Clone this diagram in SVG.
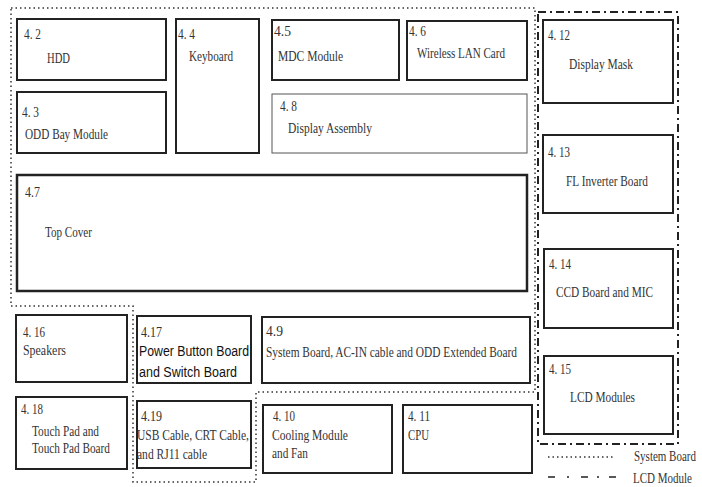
<svg xmlns="http://www.w3.org/2000/svg" width="702" height="487" viewBox="0 0 702 487">
<style>
.b{fill:#fff;stroke:#222;stroke-width:2}
.thin{fill:#fff;stroke:#555;stroke-width:1}
text{font-family:"Liberation Serif",serif;font-size:15px;fill:#333;}
.s{font-family:"Liberation Sans",Arial,sans-serif;font-size:14px;fill:#111}
.dot{fill:none;stroke:#333;stroke-width:1.5;stroke-dasharray:1.5 3}
.dd{fill:none;stroke:#222;stroke-width:2;stroke-dasharray:8 4 2 4}
</style>
<rect width="702" height="487" fill="#fff"/>
<g id="connectors">
<path class="dot" d="M11,8 H535 V392 H256 V482 H133 V306 H11 Z"/>
<rect class="dd" x="538" y="12" width="140" height="432"/>
</g>
<g id="n4_2"><rect class="b" x="17" y="19" width="149" height="61"/><text x="24" y="39" textLength="17" lengthAdjust="spacingAndGlyphs">4. 2</text><text x="47" y="63" textLength="23" lengthAdjust="spacingAndGlyphs">HDD</text></g>
<g id="n4_3"><rect class="b" x="17" y="92" width="149" height="61"/><text x="22" y="117" textLength="17" lengthAdjust="spacingAndGlyphs">4. 3</text><text x="25" y="139" textLength="83" lengthAdjust="spacingAndGlyphs">ODD Bay Module</text></g>
<g id="n4_4"><rect class="b" x="176" y="19" width="83" height="134"/><text x="178" y="39" textLength="17" lengthAdjust="spacingAndGlyphs">4. 4</text><text x="189" y="61" textLength="44" lengthAdjust="spacingAndGlyphs">Keyboard</text></g>
<g id="n4_5"><rect class="b" x="272" y="20" width="127" height="60"/><text x="274" y="36" textLength="17" lengthAdjust="spacingAndGlyphs">4.5</text><text x="278" y="61" textLength="65" lengthAdjust="spacingAndGlyphs">MDC Module</text></g>
<g id="n4_6"><rect class="b" x="407" y="21" width="120" height="59"/><text x="409" y="36" textLength="17" lengthAdjust="spacingAndGlyphs">4. 6</text><text x="417" y="58" textLength="88" lengthAdjust="spacingAndGlyphs">Wireless LAN Card</text></g>
<g id="n4_8"><rect class="thin" x="272" y="94" width="255" height="59"/><text x="280" y="111" textLength="17" lengthAdjust="spacingAndGlyphs">4. 8</text><text x="288" y="133" textLength="84" lengthAdjust="spacingAndGlyphs">Display Assembly</text></g>
<g id="n4_7"><rect class="b" x="17" y="175" width="510" height="116" style="stroke-width:2.5"/><text x="25" y="197" textLength="15" lengthAdjust="spacingAndGlyphs">4.7</text><text x="45" y="237" textLength="47" lengthAdjust="spacingAndGlyphs">Top Cover</text></g>
<g id="n4_12"><rect class="b" x="543" y="20" width="130" height="83"/><text x="548" y="40" textLength="22" lengthAdjust="spacingAndGlyphs">4. 12</text><text x="569" y="69" textLength="64" lengthAdjust="spacingAndGlyphs">Display Mask</text></g>
<g id="n4_13"><rect class="b" x="543" y="135" width="130" height="78"/><text x="548" y="157" textLength="22" lengthAdjust="spacingAndGlyphs">4. 13</text><text x="566" y="186" textLength="82" lengthAdjust="spacingAndGlyphs">FL Inverter Board</text></g>
<g id="n4_14"><rect class="b" x="544" y="249" width="129" height="79"/><text x="549" y="269" textLength="22" lengthAdjust="spacingAndGlyphs">4. 14</text><text x="556" y="297" textLength="97" lengthAdjust="spacingAndGlyphs">CCD Board and MIC</text></g>
<g id="n4_15"><rect class="b" x="544" y="356" width="129" height="78"/><text x="549" y="374" textLength="22" lengthAdjust="spacingAndGlyphs">4. 15</text><text x="570" y="402" textLength="65" lengthAdjust="spacingAndGlyphs">LCD Modules</text></g>
<g id="n4_16"><rect class="b" x="16" y="315" width="111" height="67"/><text x="23" y="337" textLength="22" lengthAdjust="spacingAndGlyphs">4. 16</text><text x="23" y="355" textLength="43" lengthAdjust="spacingAndGlyphs">Speakers</text></g>
<g id="n4_17"><rect class="b" x="137" y="316" width="114" height="67"/><text x="141" y="337" textLength="21" lengthAdjust="spacingAndGlyphs">4.17</text><text class="s" x="139" y="356" textLength="110" lengthAdjust="spacingAndGlyphs">Power Button Board</text><text class="s" x="139" y="377" textLength="98" lengthAdjust="spacingAndGlyphs">and Switch Board</text></g>
<g id="n4_9"><rect class="b" x="262" y="317" width="268" height="66"/><text x="266" y="336" textLength="17" lengthAdjust="spacingAndGlyphs">4.9</text><text x="266" y="357" textLength="251" lengthAdjust="spacingAndGlyphs">System Board, AC-IN cable and ODD Extended Board</text></g>
<g id="n4_18"><rect class="b" x="16" y="397" width="111" height="72"/><text x="21" y="414" textLength="22" lengthAdjust="spacingAndGlyphs">4. 18</text><text x="32" y="436" textLength="67" lengthAdjust="spacingAndGlyphs">Touch Pad and</text><text x="32" y="453" textLength="78" lengthAdjust="spacingAndGlyphs">Touch Pad Board</text></g>
<g id="n4_19"><rect class="b" x="137" y="401" width="114" height="67"/><text x="141" y="421" textLength="21" lengthAdjust="spacingAndGlyphs">4.19</text><text x="137" y="440" textLength="112" lengthAdjust="spacingAndGlyphs">USB Cable, CRT Cable,</text><text x="137" y="459" textLength="70" lengthAdjust="spacingAndGlyphs">and RJ11 cable</text></g>
<g id="n4_10"><rect class="b" x="263" y="405" width="129" height="68"/><text x="273" y="421" textLength="22" lengthAdjust="spacingAndGlyphs">4. 10</text><text x="272" y="440" textLength="76" lengthAdjust="spacingAndGlyphs">Cooling Module</text><text x="272" y="458" textLength="36" lengthAdjust="spacingAndGlyphs">and Fan</text></g>
<g id="n4_11"><rect class="b" x="403" y="405" width="129" height="68"/><text x="408" y="421" textLength="22" lengthAdjust="spacingAndGlyphs">4. 11</text><text x="408" y="440" textLength="21" lengthAdjust="spacingAndGlyphs">CPU</text></g>
<g id="legend">
<line class="dot" x1="548" y1="457" x2="615" y2="457"/>
<path d="M548,477 h7 M567,477 h2 M581,477 h7 M597,477 h2 M609,477 h7" stroke="#222" stroke-width="1.5" fill="none"/>
<text x="634" y="461" textLength="62" lengthAdjust="spacingAndGlyphs">System Board</text>
<text x="633" y="483" textLength="59" lengthAdjust="spacingAndGlyphs">LCD Module</text>
</g>
</svg>
